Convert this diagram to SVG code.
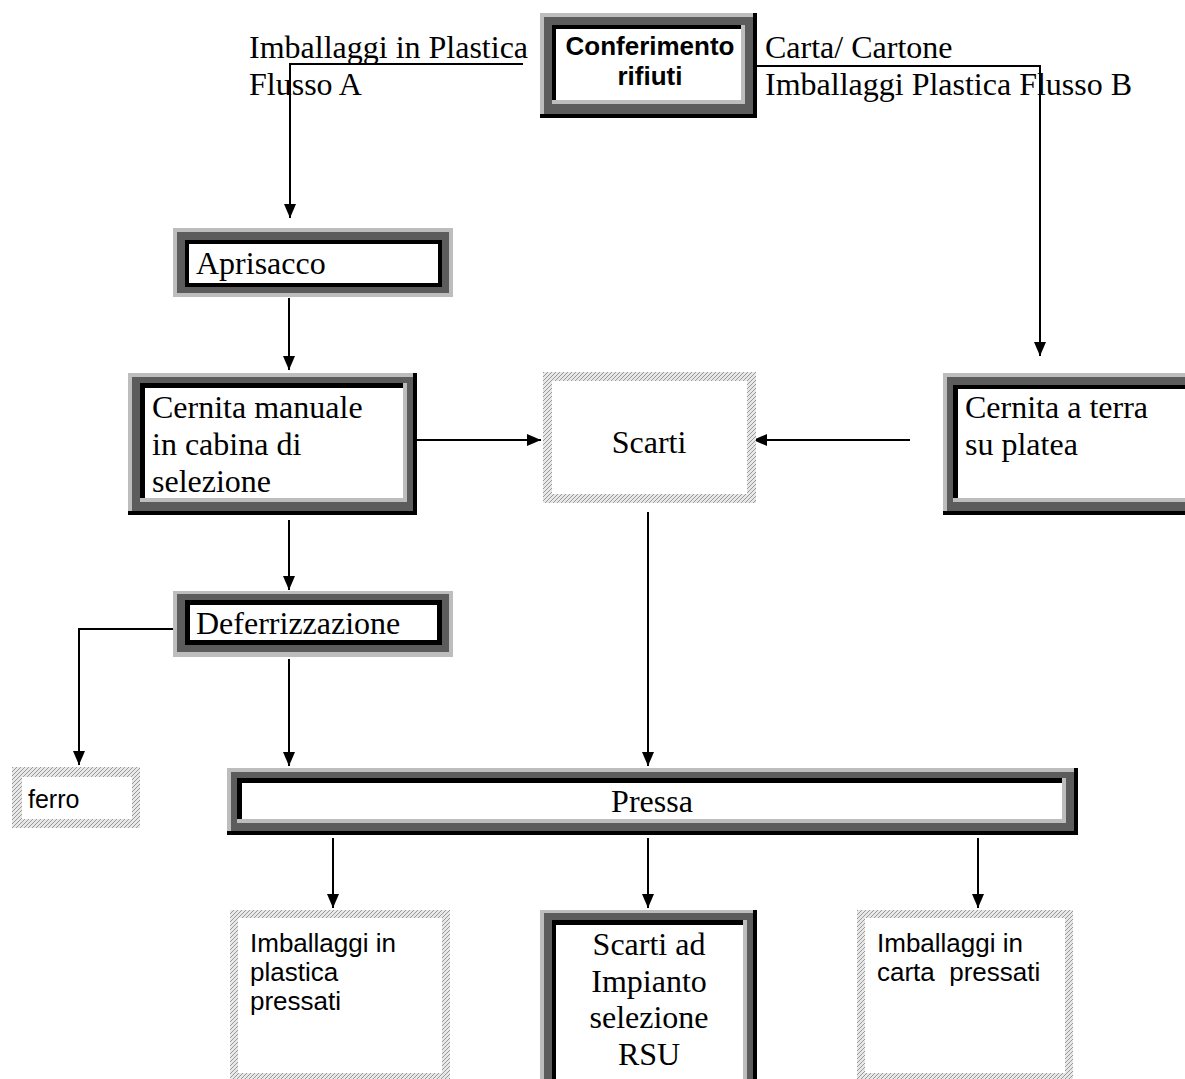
<svg xmlns="http://www.w3.org/2000/svg" width="1185" height="1079" viewBox="0 0 1185 1079">
<style>
.lt{fill:#bdbdbd}.dk{fill:#5c5c5c}.bk{fill:#000}.wh{fill:#fff}
.ht{fill:url(#hatch)}
.serif{font-family:"Liberation Serif","Times New Roman",serif;font-size:32px;fill:#000}
.sans{font-family:"Liberation Sans",Arial,sans-serif;font-size:26px;fill:#000}
.bold{font-family:"Liberation Sans",Arial,sans-serif;font-size:26px;font-weight:bold;fill:#000}
.conn{fill:none;stroke:#000;stroke-width:2}
</style>
<defs>
<pattern id="hatch" patternUnits="userSpaceOnUse" width="4" height="4">
<rect width="4" height="4" fill="#e8e8e8"/>
<path d="M0 4L4 0M-1 1L1 -1M3 5L5 3" stroke="#999" stroke-width="1"/>
</pattern>
<marker id="arr" markerUnits="userSpaceOnUse" markerWidth="14" markerHeight="14" viewBox="0 0 14 14" refX="14" refY="7" orient="auto">
<path d="M0 1L14 7L0 13z" fill="#000"/>
</marker>
</defs>
<rect width="1185" height="1079" fill="#fff"/>

<g id="connectors">
<path class="conn" d="M523 64H290V218" marker-end="url(#arr)"/>
<path class="conn" d="M745 66H1040V356" marker-end="url(#arr)"/>
<path class="conn" d="M289 298V370" marker-end="url(#arr)"/>
<path class="conn" d="M417 440H541" marker-end="url(#arr)"/>
<path class="conn" d="M910 440H753" marker-end="url(#arr)"/>
<path class="conn" d="M289 520V590" marker-end="url(#arr)"/>
<path class="conn" d="M177 629H79V765" marker-end="url(#arr)"/>
<path class="conn" d="M289 659V766" marker-end="url(#arr)"/>
<path class="conn" d="M648 512V766" marker-end="url(#arr)"/>
<path class="conn" d="M333 838V908" marker-end="url(#arr)"/>
<path class="conn" d="M648 838V908" marker-end="url(#arr)"/>
<path class="conn" d="M978 838V908" marker-end="url(#arr)"/>
</g>

<g id="labels">
<text class="serif" x="249" y="58">Imballaggi in Plastica</text>
<text class="serif" x="249" y="95">Flusso A</text>
<text class="serif" x="765" y="58">Carta/ Cartone</text>
<text class="serif" x="765" y="95">Imballaggi Plastica Flusso B</text>
</g>

<g id="conferimento">
<rect class="bk" x="540" y="13" width="217" height="105"/>
<rect class="lt" x="540" y="13" width="213" height="101"/>
<rect class="dk" x="544" y="17" width="209" height="97"/>
<rect class="lt" x="552" y="25" width="193" height="79"/>
<rect class="bk" x="552" y="25" width="189" height="75"/>
<rect class="wh" x="556" y="29" width="185" height="71"/>
<text class="bold" x="650" y="55" text-anchor="middle">Conferimento</text>
<text class="bold" x="650" y="85" text-anchor="middle">rifiuti</text>
</g>

<g id="aprisacco">
<rect class="lt" x="173" y="228" width="280" height="69"/>
<rect class="dk" x="177" y="232" width="272" height="61"/>
<rect class="bk" x="185" y="240" width="257" height="47"/>
<rect class="wh" x="189" y="244" width="249" height="39"/>
<text class="serif" x="196" y="274">Aprisacco</text>
</g>

<g id="cernita-manuale">
<rect class="bk" x="128" y="373" width="289" height="142"/>
<rect class="lt" x="128" y="373" width="285" height="138"/>
<rect class="dk" x="132" y="377" width="281" height="134"/>
<rect class="lt" x="140" y="383" width="267" height="119"/>
<rect class="bk" x="140" y="383" width="263" height="115"/>
<rect class="wh" x="145" y="388" width="258" height="110"/>
<text class="serif" x="152" y="418">Cernita manuale</text>
<text class="serif" x="152" y="455">in cabina di</text>
<text class="serif" x="152" y="492">selezione</text>
</g>

<g id="scarti">
<rect class="ht" x="543" y="372" width="213" height="131"/>
<rect class="wh" x="552" y="381" width="195" height="113"/>
<text class="serif" x="649" y="453" text-anchor="middle">Scarti</text>
</g>

<g id="cernita-terra">
<rect class="bk" x="943" y="373" width="262" height="142"/>
<rect class="lt" x="943" y="373" width="258" height="138"/>
<rect class="dk" x="947" y="377" width="254" height="134"/>
<rect class="lt" x="953" y="385" width="240" height="117"/>
<rect class="bk" x="953" y="385" width="236" height="113"/>
<rect class="wh" x="958" y="389" width="231" height="109"/>
<text class="serif" x="965" y="418">Cernita a terra</text>
<text class="serif" x="965" y="455">su platea</text>
</g>

<g id="deferrizzazione">
<rect class="lt" x="173" y="591" width="280" height="66"/>
<rect class="dk" x="177" y="594" width="272" height="58"/>
<rect class="bk" x="185" y="600" width="257" height="45"/>
<rect class="wh" x="190" y="605" width="247" height="35"/>
<text class="serif" x="196" y="634">Deferrizzazione</text>
</g>

<g id="ferro">
<rect class="ht" x="12" y="767" width="128" height="61"/>
<rect class="wh" x="22" y="777" width="110" height="42"/>
<text class="sans" x="28" y="808" style="font-size:25px">ferro</text>
</g>

<g id="pressa">
<rect class="bk" x="227" y="768" width="851" height="67"/>
<rect class="lt" x="227" y="768" width="847" height="63"/>
<rect class="dk" x="231" y="772" width="843" height="59"/>
<rect class="lt" x="237" y="778" width="829" height="45"/>
<rect class="bk" x="237" y="778" width="825" height="41"/>
<rect class="wh" x="242" y="783" width="820" height="36"/>
<text class="serif" x="652" y="812" text-anchor="middle">Pressa</text>
</g>

<g id="imballaggi-plastica">
<rect class="ht" x="230" y="910" width="220" height="175"/>
<rect class="wh" x="238" y="918" width="204" height="155"/>
<text class="sans" x="250" y="952">Imballaggi in</text>
<text class="sans" x="250" y="981">plastica</text>
<text class="sans" x="250" y="1010">pressati</text>
</g>

<g id="scarti-impianto">
<rect class="bk" x="540" y="910" width="217" height="180"/>
<rect class="lt" x="540" y="910" width="213" height="176"/>
<rect class="dk" x="544" y="913" width="209" height="173"/>
<rect class="lt" x="552" y="920" width="195" height="170"/>
<rect class="bk" x="552" y="920" width="191" height="170"/>
<rect class="wh" x="556" y="925" width="187" height="170"/>
<text class="serif" x="649" y="955" text-anchor="middle">Scarti ad</text>
<text class="serif" x="649" y="992" text-anchor="middle">Impianto</text>
<text class="serif" x="649" y="1028" text-anchor="middle">selezione</text>
<text class="serif" x="649" y="1065" text-anchor="middle">RSU</text>
</g>

<g id="imballaggi-carta">
<rect class="ht" x="857" y="910" width="216" height="175"/>
<rect class="wh" x="865" y="918" width="200" height="155"/>
<text class="sans" x="877" y="952">Imballaggi in</text>
<text class="sans" x="877" y="981">carta &#160;pressati</text>
</g>
</svg>
